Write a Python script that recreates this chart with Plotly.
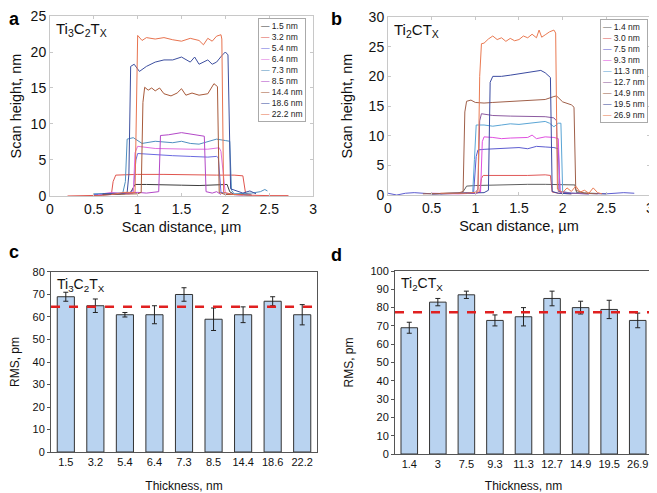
import plotly.graph_objects as go

# ---- panel a: AFM height profiles, Ti3C2Tx ----
labels_a = ["1.5 nm", "3.2 nm", "5.4 nm", "6.4 nm", "7.3 nm", "8.5 nm", "14.4 nm", "18.6 nm", "22.2 nm"]
colors_a = ["#3c3c3c", "#e0554e", "#6a6ae0", "#e070e0", "#4f8fc0", "#b348c8", "#a85a3a", "#3d4f9f", "#e8734f"]

x_a_15 = [0.5, 0.7, 0.85, 0.92, 0.95, 0.97, 1.1, 1.3, 1.5, 1.7, 1.9, 2.02, 2.05, 2.1, 2.2, 2.3]
y_a_15 = [0.1, 0.2, 0.3, 0.5, 1.2, 1.6, 1.6, 1.5, 1.5, 1.45, 1.6, 1.6, 0.6, 0.2, 0.2, 0.1]
x_a_32 = [0.2, 0.4, 0.6, 0.7, 0.72, 0.75, 1.0, 1.3, 1.6, 1.9, 2.1, 2.2, 2.23, 2.3, 2.5, 2.72]
y_a_32 = [0.0, 0.0, 0.1, 0.2, 2.0, 2.9, 3.0, 3.0, 2.9, 2.9, 2.9, 2.8, 0.4, 0.1, 0.05, 0.05]
x_a_54 = [0.5, 0.7, 0.9, 0.95, 0.98, 1.0, 1.2, 1.4, 1.6, 1.8, 1.9, 1.92, 1.95, 2.1, 2.3]
y_a_54 = [0.2, 0.3, 0.4, 0.8, 5.0, 5.9, 5.7, 5.6, 5.5, 5.4, 5.5, 5.3, 0.5, 0.2, 0.1]
x_a_64 = [0.55, 0.7, 0.9, 0.95, 0.97, 1.0, 1.2, 1.4, 1.6, 1.8, 1.93, 1.95, 2.0, 2.2]
y_a_64 = [0.2, 0.5, 0.3, 0.4, 6.0, 6.9, 6.6, 6.5, 6.5, 6.5, 6.7, 6.2, 0.3, 0.1]
x_a_73 = [0.5, 0.7, 0.83, 0.86, 0.88, 0.95, 1.05, 1.2, 1.4, 1.5, 1.6, 1.7, 1.8, 1.9, 2.0, 2.05, 2.07, 2.1, 2.3, 2.4, 2.45, 2.48]
y_a_73 = [0.3, 0.4, 0.4, 2.0, 7.9, 8.1, 7.3, 7.6, 7.4, 7.6, 7.3, 7.2, 7.5, 7.9, 7.7, 7.6, 0.8, 0.3, 0.4, 0.6, 0.9, 0.7]
x_a_85 = [0.6, 0.8, 0.95, 1.0, 1.1, 1.2, 1.24, 1.26, 1.35, 1.5, 1.6, 1.7, 1.76, 1.78, 1.85, 1.9, 1.95]
y_a_85 = [0.2, 0.3, 0.4, 0.5, 0.4, 0.5, 0.6, 8.4, 8.5, 8.8, 8.6, 8.4, 8.3, 0.6, 0.4, 0.6, 0.2]
x_a_144 = [0.6, 0.8, 1.0, 1.04, 1.06, 1.08, 1.12, 1.16, 1.2, 1.25, 1.3, 1.38, 1.45, 1.5, 1.55, 1.62, 1.7, 1.8, 1.87, 1.91, 1.93, 2.0, 2.2]
y_a_144 = [0.2, 0.3, 0.3, 0.5, 13.0, 15.1, 14.7, 15.0, 14.6, 15.0, 14.2, 13.9, 14.3, 14.9, 14.0, 14.3, 14.0, 14.2, 15.6, 15.2, 0.5, 0.2, 0.2]
x_a_186 = [0.6, 0.8, 0.88, 0.9, 0.92, 0.96, 1.02, 1.1, 1.2, 1.3, 1.4, 1.5, 1.6, 1.65, 1.7, 1.8, 1.85, 1.9, 1.96, 2.0, 2.03, 2.06, 2.2, 2.28, 2.35]
y_a_186 = [0.3, 0.3, 0.5, 3.0, 18.0, 18.3, 17.3, 18.0, 18.6, 18.9, 18.9, 19.3, 18.6, 19.3, 18.3, 18.9, 18.3, 18.6, 19.5, 20.0, 19.6, 1.0, 0.4, 0.7, 0.3]
x_a_222 = [0.7, 0.85, 0.97, 0.99, 1.0, 1.05, 1.1, 1.2, 1.3, 1.4, 1.5, 1.6, 1.7, 1.75, 1.8, 1.85, 1.9, 1.95, 1.96, 1.98, 2.1, 2.3]
y_a_222 = [0.2, 0.5, 0.5, 20.0, 22.3, 21.6, 22.0, 21.8, 22.0, 21.7, 21.5, 21.9, 21.6, 21.0, 21.9, 21.5, 22.2, 22.4, 21.8, 0.5, 0.2, 0.1]

profiles_a = [(x_a_15, y_a_15), (x_a_32, y_a_32), (x_a_54, y_a_54), (x_a_64, y_a_64), (x_a_73, y_a_73),
              (x_a_85, y_a_85), (x_a_144, y_a_144), (x_a_186, y_a_186), (x_a_222, y_a_222)]

# ---- panel b: AFM height profiles, Ti2CTx ----
labels_b = ["1.4 nm", "3.0 nm", "7.5 nm", "9.3 nm", "11.3 nm", "12.7 nm", "14.9 nm", "19.5 nm", "26.9 nm"]
colors_b = ["#606060", "#e05858", "#5c5cd0", "#e050e0", "#5aa5d5", "#8c5aa0", "#a0604a", "#3a4aa0", "#ea7a52"]

x_b_14 = [0.5, 0.7, 0.85, 0.88, 0.9, 1.0, 1.2, 1.4, 1.6, 1.8, 2.0, 2.1, 2.14, 2.16, 2.3, 2.5]
y_b_14 = [0.2, 0.3, 0.4, 1.0, 1.5, 1.6, 1.7, 1.8, 1.8, 1.8, 1.8, 1.8, 1.7, 0.4, 0.3, 0.2]
x_b_30 = [0.5, 0.8, 1.0, 1.05, 1.07, 1.09, 1.2, 1.4, 1.6, 1.8, 1.86, 1.88, 1.95, 2.1]
y_b_30 = [0.2, 0.2, 0.3, 0.5, 2.8, 3.3, 3.3, 3.2, 3.3, 3.4, 3.3, 0.5, 0.3, 0.2]
x_b_75 = [0.0, 0.1, 0.2, 0.3, 0.5, 0.8, 0.98, 1.01, 1.03, 1.1, 1.2, 1.3, 1.4, 1.5, 1.6, 1.7, 1.8, 1.9, 1.95, 1.97, 2.05, 2.3, 2.5, 2.7, 2.82]
y_b_75 = [0.3, 0.0, 0.3, 0.4, 0.2, 0.2, 0.3, 6.5, 7.6, 7.7, 7.8, 7.9, 7.9, 8.0, 7.8, 8.2, 8.1, 8.0, 7.8, 0.5, 0.3, 0.2, 0.2, 0.4, 0.3]
x_b_93 = [0.5, 0.8, 1.0, 1.06, 1.08, 1.1, 1.2, 1.3, 1.4, 1.5, 1.6, 1.65, 1.7, 1.8, 1.9, 1.95, 1.97, 2.05, 2.3]
y_b_93 = [0.3, 0.2, 0.3, 0.5, 9.0, 9.8, 9.7, 9.5, 9.6, 9.7, 9.7, 10.1, 9.5, 9.8, 9.7, 9.5, 0.5, 0.3, 0.2]
x_b_113 = [0.5, 0.8, 0.97, 0.99, 1.01, 1.1, 1.2, 1.3, 1.4, 1.5, 1.6, 1.7, 1.8, 1.85, 1.9, 1.95, 1.98, 2.0, 2.1, 2.3]
y_b_113 = [0.2, 0.3, 0.4, 6.0, 11.8, 11.8, 11.6, 11.8, 12.0, 11.9, 12.1, 12.2, 12.4, 12.1, 11.5, 12.1, 12.1, 0.6, 0.3, 0.2]
x_b_127 = [0.5, 0.8, 1.0, 1.03, 1.05, 1.07, 1.2, 1.4, 1.6, 1.8, 1.9, 1.93, 1.95, 2.1, 2.3]
y_b_127 = [0.2, 0.3, 0.4, 1.0, 12.5, 13.7, 13.4, 13.3, 13.2, 13.2, 13.0, 12.5, 0.6, 0.3, 0.2]
x_b_149 = [0.4, 0.6, 0.8, 0.86, 0.88, 0.9, 0.95, 1.0, 1.1, 1.2, 1.4, 1.6, 1.8, 1.9, 1.93, 2.0, 2.1, 2.13, 2.15, 2.25, 2.4]
y_b_149 = [0.2, 0.3, 0.3, 0.6, 14.0, 15.8, 16.0, 15.6, 15.5, 15.6, 15.8, 15.9, 16.1, 16.6, 16.7, 15.7, 15.2, 14.8, 0.8, 0.3, 0.2]
x_b_195 = [0.6, 0.9, 1.1, 1.15, 1.17, 1.2, 1.3, 1.4, 1.5, 1.6, 1.7, 1.75, 1.8, 1.86, 1.88, 1.95, 2.1]
y_b_195 = [0.2, 0.3, 0.4, 0.8, 19.0, 20.0, 20.0, 20.2, 20.4, 20.7, 20.9, 21.0, 20.6, 19.8, 0.6, 0.3, 0.2]
x_b_269 = [0.6, 0.9, 1.03, 1.05, 1.07, 1.1, 1.15, 1.2, 1.25, 1.3, 1.35, 1.4, 1.45, 1.5, 1.55, 1.6, 1.65, 1.7, 1.73,
           1.76, 1.8, 1.85, 1.9, 1.92, 1.94, 2.0, 2.05, 2.1, 2.15, 2.2, 2.25, 2.3, 2.35, 2.4, 2.45]
y_b_269 = [0.3, 0.3, 0.5, 20.0, 25.5, 25.6, 26.3, 26.8, 26.2, 26.5, 25.9, 26.4, 26.0, 26.2, 26.8, 26.5, 27.1, 26.5, 27.8,
           26.6, 27.0, 27.5, 27.8, 27.3, 1.0, 0.4, 1.2, 0.6, 1.5, 0.5, 0.8, 0.3, 1.2, 0.4, 0.2]

profiles_b = [(x_b_14, y_b_14), (x_b_30, y_b_30), (x_b_75, y_b_75), (x_b_93, y_b_93), (x_b_113, y_b_113),
              (x_b_127, y_b_127), (x_b_149, y_b_149), (x_b_195, y_b_195), (x_b_269, y_b_269)]

# ---- panels c, d: RMS roughness ----
thick_c = ["1.5", "3.2", "5.4", "6.4", "7.3", "8.5", "14.4", "18.6", "22.2"]
rms_c = [69, 65, 61, 61, 70, 59, 61, 67, 61]
err_c = [2, 3, 1, 4, 3, 5, 3.5, 2, 4.5]
mean_c = 64.5

thick_d = ["1.4", "3", "7.5", "9.3", "11.3", "12.7", "14.9", "19.5", "26.9"]
rms_d = [69, 83, 87, 73, 75, 85, 80, 79, 73]
err_d = [3, 2, 2, 3, 5, 4, 3.5, 5, 4]
mean_d = 77.5

FONT = "Liberation Sans, Arial, sans-serif"
fig = go.Figure()

for (xs, ys), c, n in zip(profiles_a, colors_a, labels_a):
    fig.add_trace(go.Scatter(x=xs, y=ys, mode="lines", line=dict(color=c, width=1), name=n,
                             showlegend=False, xaxis="x", yaxis="y"))
for (xs, ys), c, n in zip(profiles_b, colors_b, labels_b):
    fig.add_trace(go.Scatter(x=xs, y=ys, mode="lines", line=dict(color=c, width=1), name=n,
                             showlegend=False, xaxis="x2", yaxis="y2"))

bar_style = dict(marker=dict(color="#b9d3f0", line=dict(color="#333333", width=1)), showlegend=False)
fig.add_trace(go.Bar(x=thick_c, y=rms_c, error_y=dict(type="data", array=err_c, color="#222", thickness=1, width=2.5),
                     xaxis="x3", yaxis="y3", **bar_style))
fig.add_trace(go.Bar(x=thick_d, y=rms_d, error_y=dict(type="data", array=err_d, color="#222", thickness=1, width=2.5),
                     xaxis="x4", yaxis="y4", **bar_style))

# dashed mean lines
for ax, m in (("3", mean_c), ("4", mean_d)):
    fig.add_shape(type="line", xref="x%s domain" % ax, yref="y" + ax, x0=0, x1=1, y0=m, y1=m,
                  line=dict(color="#e02020", width=2.5, dash="dash"))

line_ax = dict(showline=True, mirror="ticks", linecolor="#c8c8c8", ticks="inside", ticklen=3,
               tickcolor="#c8c8c8", showgrid=False, zeroline=False, automargin=False, ticklabeloverflow="allow",
               tickfont=dict(size=14, color="#111"), title_font=dict(size=14.5, color="#111"))
bar_ax = dict(showline=True, mirror=True, linecolor="#555", showgrid=False, zeroline=False, automargin=False,
              ticklabeloverflow="allow", tickfont=dict(size=11, color="#111"), title_font=dict(size=12, color="#111"))

# the page body adds an 8 px offset, so the figure is 8 px smaller than the window
fig.update_layout(
    width=649, height=485, margin=dict(l=0, r=0, t=0, b=0),
    plot_bgcolor="white", paper_bgcolor="white", font=dict(family=FONT, color="#111"),
    bargap=0.42,
    xaxis=dict(domain=[0.0647, 0.4700], anchor="y", range=[0, 3], dtick=0.5,
               title=dict(text="Scan distance, µm", standoff=6), **line_ax),
    yaxis=dict(domain=[0.6124, 0.9835], anchor="x", range=[0, 25], dtick=5,
               title=dict(text="Scan height, nm", standoff=11), **line_ax),
    xaxis2=dict(domain=[0.5855, 0.9892], anchor="y2", range=[0, 3], dtick=0.5,
                title=dict(text="Scan distance, µm", standoff=6), **line_ax),
    yaxis2=dict(domain=[0.6144, 0.9814], anchor="x2", range=[0, 30], dtick=5,
                title=dict(text="Scan height, nm", standoff=12), **line_ax),
    xaxis3=dict(domain=[0.0663, 0.4761], anchor="y3", ticks="", title=dict(text="Thickness, nm", standoff=14), **bar_ax),
    yaxis3=dict(domain=[0.0845, 0.4557], anchor="x3", range=[0, 80], dtick=10, ticks="outside", ticklen=3,
                tickcolor="#555", title=dict(text="RMS, pm", standoff=15), **bar_ax),
    xaxis4=dict(domain=[0.5963, 0.9923], anchor="y4", ticks="", title=dict(text="Thickness, nm", standoff=14), **bar_ax),
    yaxis4=dict(domain=[0.0804, 0.4577], anchor="x4", range=[0, 100], dtick=10, ticks="outside", ticklen=3,
                tickcolor="#555", title=dict(text="RMS, pm", standoff=14), **bar_ax),
)

ann = []
# panel letters
for txt, x, y in (("a", 0.0, 1.0), ("b", 0.496, 1.0), ("c", 0.0, 0.52), ("d", 0.496, 0.513)):
    ann.append(dict(text="<b>%s</b>" % txt, x=x, y=y, xref="paper", yref="paper", xanchor="left", yanchor="top",
                    showarrow=False, borderpad=0, font=dict(size=18, color="#000")))
# compound labels
for ax, txt, fs in (("", "Ti<sub>3</sub>C<sub>2</sub>T<sub>X</sub>", 15), ("2", "Ti<sub>2</sub>CT<sub>X</sub>", 15),
                    ("3", "Ti<sub>3</sub>C<sub>2</sub>T<sub>X</sub>", 14), ("4", "Ti<sub>2</sub>CT<sub>X</sub>", 14)):
    ann.append(dict(text=txt, x=0.015, y=0.99, xref="x%s domain" % ax, yref="y%s domain" % ax,
                    xanchor="left", yanchor="top", showarrow=False, font=dict(size=fs, color="#111")))


def legend_text(labels, colors):
    return "<br>".join('<span style="color:%s">—</span> %s' % (c, l) for l, c in zip(labels, colors))


ann.append(dict(text=legend_text(labels_a, colors_a), x=0.4592, y=0.979, xref="paper", yref="paper",
                xanchor="right", yanchor="top", align="left", showarrow=False, font=dict(size=8.5, color="#222"),
                bgcolor="white", bordercolor="#aaa", borderwidth=1, borderpad=2))
ann.append(dict(text=legend_text(labels_b, colors_b), x=0.986, y=0.977, xref="paper", yref="paper",
                xanchor="right", yanchor="top", align="left", showarrow=False, font=dict(size=8.5, color="#222"),
                bgcolor="white", bordercolor="#aaa", borderwidth=1, borderpad=2))
fig.update_layout(annotations=ann)

fig.write_html("out.html")
